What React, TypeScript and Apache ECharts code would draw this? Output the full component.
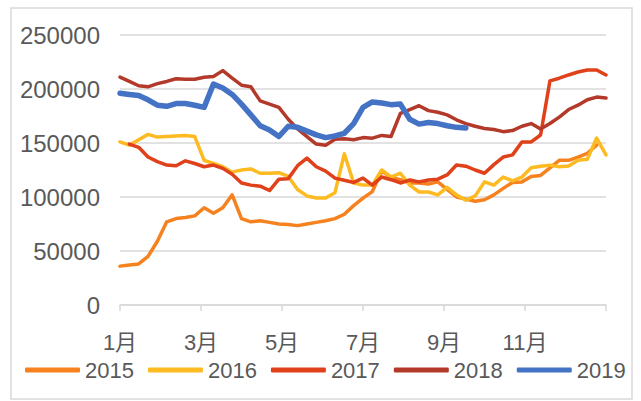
import React, { useEffect, useRef } from "react";
import * as echarts from "echarts";

const seriesNames = ["2015", "2016", "2017", "2018", "2019"];
const seriesColors = ["#F5821F", "#FDBA21", "#E0401A", "#B3392B", "#4472C4"];
const monthTicks = [1, 3, 5, 7, 9, 11, 13];

const v2015 = [36000, 37000, 38000, 45000, 59000, 77000, 80000, 81000, 82500, 90000, 85000, 90000, 102000, 80000, 77000, 78000, 76500, 75000, 74500, 73500, 75000, 76500, 78000, 80000, 84000, 92000, 99000, 105000, 124000, 118000, 116000, 113000, 113000, 112000, 114000, 107000, 100000, 98000, 96000, 97500, 102000, 108000, 113500, 114000, 119000, 120000, 127000, 134000, 134000, 137000, 140500, 148000, null];
const v2016 = [151000, 148000, 153000, 158000, 155500, 156000, 156500, 157000, 156000, 134000, 131000, 128000, 123000, 125000, 126000, 122000, 122000, 122500, 119000, 107000, 101000, 99000, 99000, 104000, 140000, 113000, 111000, 111000, 125000, 118500, 122000, 111000, 104600, 104600, 102000, 109000, 102000, 97000, 101000, 114000, 111000, 118500, 115000, 118500, 127000, 128500, 129500, 128000, 128700, 134000, 135000, 154600, 139000];
const v2017 = [null, 149000, 146000, 137000, 132700, 129600, 129000, 133500, 131000, 128000, 129600, 126500, 121000, 113000, 111000, 110000, 106000, 116500, 117000, 129000, 136000, 128000, 124000, 117500, 115500, 113500, 117500, 111000, 118500, 116000, 113000, 115700, 114000, 115700, 116500, 120400, 129600, 128500, 125000, 122000, 130000, 137000, 139000, 151000, 151000, 157400, 207500, 210000, 213000, 215700, 217600, 217600, 213000];
const v2018 = [211000, 207000, 203000, 202000, 205000, 207000, 209500, 209000, 209000, 210800, 211500, 217000, 210000, 203500, 202000, 189000, 186000, 183000, 172000, 163000, 156000, 149000, 148000, 153500, 154000, 153000, 155000, 154500, 157000, 156000, 177500, 181000, 184500, 180000, 178500, 176000, 171500, 168000, 165500, 163500, 162500, 160500, 161500, 165500, 168000, 163000, 168000, 174000, 181000, 185000, 190000, 192500, 191700];
const v2019 = [196000, 195000, 194000, 190000, 185000, 184000, 186500, 186500, 185000, 183000, 204600, 201000, 195000, 186000, 176000, 166000, 162000, 156000, 165500, 164500, 161000, 157500, 155000, 156500, 159000, 168000, 183000, 188000, 187000, 185500, 186000, 172000, 167500, 169000, 168000, 166000, 164500, 164000];

const allValues = [v2015, v2016, v2017, v2018, v2019];
const lineWidths = [3.5, 3.5, 3.5, 3.5, 5.5];
const WEEKS = 52;

export default function App() {
  const ref = useRef<HTMLDivElement>(null);
  useEffect(() => {
    document.body.style.margin = "0";
    if (!ref.current) return;
    const chart = echarts.init(ref.current, null, { renderer: "svg" });
    const font = "'Liberation Sans', Arial, 'Noto Sans CJK SC', sans-serif";
    chart.setOption({
      animation: false,
      backgroundColor: "#ffffff",
      textStyle: { fontFamily: font },
      grid: { left: 120, right: 35, top: 35, bottom: 96 },
      graphic: [
        {
          type: "rect",
          shape: { x: 11, y: 8, width: 621, height: 391 },
          style: { fill: "none", stroke: "#d9d9d9", lineWidth: 1.5 },
          silent: true,
        },
      ],
      xAxis: {
        type: "value",
        min: 1,
        max: 13,
        interval: 2,
        axisLine: { show: true, lineStyle: { color: "#d9d9d9", width: 1.5 } },
        axisTick: { show: true, length: 6, lineStyle: { color: "#d9d9d9", width: 1.5 } },
        splitLine: { show: false },
        axisLabel: {
          margin: 26,
          fontSize: 22,
          color: "#595959",
          fontFamily: font,
          formatter: (v: number) => (monthTicks.includes(v) && v !== 13 ? v + "月" : ""),
        },
      },
      yAxis: {
        type: "value",
        min: 0,
        max: 250000,
        interval: 50000,
        axisLine: { show: false },
        axisTick: { show: false },
        splitLine: { lineStyle: { color: "#d9d9d9", width: 1.5 } },
        axisLabel: {
          margin: 20,
          fontSize: 24,
          color: "#595959",
          fontFamily: font,
          formatter: (v: number) => String(v),
        },
      },
      legend: {
        data: seriesNames,
        left: 25,
        top: 359,
        padding: 0,
        itemGap: 14,
        itemWidth: 55,
        itemHeight: 5,
        icon: "roundRect",
        textStyle: { fontSize: 22, color: "#595959", fontFamily: font, padding: [0, 0, 0, 0] },
      },
      series: seriesNames.map((name, k) => ({
        name,
        type: "line",
        symbol: "none",
        connectNulls: false,
        color: seriesColors[k],
        lineStyle: { width: lineWidths[k], color: seriesColors[k], join: "round", cap: "round" },
        z: k === 4 ? 5 : 2 + k,
        data: allValues[k].map((v, i) => [1 + (i * 12) / WEEKS, v]),
      })),
    });
    return () => chart.dispose();
  }, []);
  return <div ref={ref} style={{ width: 641, height: 401 }} />;
}
